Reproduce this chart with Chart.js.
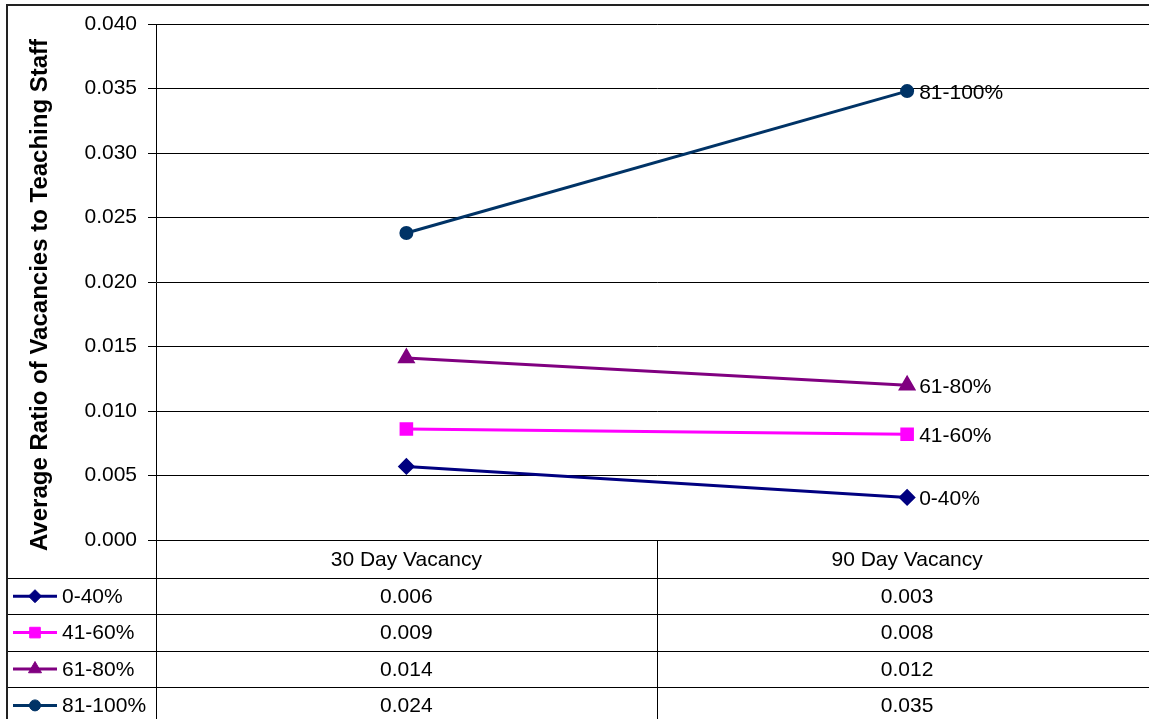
<!DOCTYPE html>
<html>
<head>
<meta charset="utf-8">
<title>Average Ratio of Vacancies to Teaching Staff</title>
<script src="https://cdn.jsdelivr.net/npm/chart.js@4.4.1/dist/chart.umd.min.js"></script>
<style>
  html, body { margin: 0; padding: 0; background: #fff; overflow: hidden; }
  #wrap { position: relative; width: 1168px; height: 719px; }
</style>
</head>
<body>
<div id="wrap"><canvas id="vacancy-chart" width="1168" height="719"></canvas></div>
<script>
/* ===================== DATA ===================== */

const CATEGORIES = ["30 Day Vacancy", "90 Day Vacancy"];
const SERIES_NAMES = ["0-40%", "41-60%", "61-80%", "81-100%"];

const RATIO_0_40 = [0.0057, 0.0033];
const RATIO_41_60 = [0.0086, 0.0082];
const RATIO_61_80 = [0.0141, 0.0120];
const RATIO_81_100 = [0.0238, 0.0348];

const Y_MIN = 0;
const Y_MAX = 0.04;
const Y_STEP = 0.005;

const Y_TITLE = "Average Ratio of Vacancies to Teaching Staff";

/* ===================== STYLE ===================== */

const SERIES_COLORS = [
  "#000080", // navy
  "#ff00ff", // magenta
  "#800080", // purple
  "#003366", // dark blue
];
const POINT_STYLES = ["rectRot", "rect", "triangle", "circle"];
const POINT_SIZES = [6.5, 7.5, 7.5, 5.5];

const FONT = "'Liberation Sans', Arial, sans-serif";
const drawPoint = Chart.helpers && Chart.helpers.drawPoint;

/* ===================== PLUGINS ===================== */

// series name printed right of the last point
const endLabels = {
  id: "endLabels",
  afterDatasetsDraw(chart) {
    const { ctx } = chart;
    ctx.save();
    ctx.font = `21px ${FONT}`;
    ctx.fillStyle = "#000";
    ctx.textAlign = "left";
    ctx.textBaseline = "middle";
    chart.data.datasets.forEach((ds, i) => {
      const pts = chart.getDatasetMeta(i).data;
      const last = pts[pts.length - 1];
      ctx.fillText(ds.label, last.x + 12, last.y + 2);
    });
    ctx.restore();
  },
};

// rotated value axis title (Excel puts it a bit below the plot centre)
const axisTitle = {
  id: "axisTitle",
  afterDraw(chart) {
    const { ctx, chartArea } = chart;
    ctx.save();
    ctx.translate(40, (chartArea.top + chartArea.bottom) / 2 + 13);
    ctx.rotate(-Math.PI / 2);
    ctx.font = `bold 24px ${FONT}`;
    ctx.fillStyle = "#000";
    ctx.textAlign = "center";
    ctx.textBaseline = "middle";
    ctx.fillText(Y_TITLE, 0, 0);
    ctx.restore();
  },
};

// Excel style data table under the plot
const dataTable = {
  id: "dataTable",
  afterDraw(chart) {
    const { ctx, chartArea, scales } = chart;
    const x = scales.x;
    const H = chart.height;
    const W = chart.width;
    const tableLeft = 8;
    const axisX = Math.round(chartArea.left) + 0.5;
    const midX = Math.round((x.getPixelForValue(0) + x.getPixelForValue(1)) / 2) + 0.5;
    const headerBottom = chartArea.bottom + 38;
    const rowH = 36.4;

    ctx.save();
    ctx.strokeStyle = "#000";
    ctx.lineWidth = 1;

    // row separators
    for (let i = 0; i < SERIES_NAMES.length; i++) {
      const y = Math.round(headerBottom + i * rowH) + 0.5;
      ctx.beginPath();
      ctx.moveTo(tableLeft, y);
      ctx.lineTo(W, y);
      ctx.stroke();
    }

    // column separators
    ctx.beginPath();
    ctx.moveTo(axisX, chartArea.bottom);
    ctx.lineTo(axisX, H);
    ctx.moveTo(midX, chartArea.bottom);
    ctx.lineTo(midX, H);
    ctx.stroke();

    // outer border
    ctx.lineWidth = 2;
    ctx.strokeStyle = "#222";
    ctx.beginPath();
    ctx.moveTo(7, H);
    ctx.lineTo(7, 5);
    ctx.lineTo(W, 5);
    ctx.stroke();

    // rows: legend key + values
    ctx.font = `21px ${FONT}`;
    ctx.textBaseline = "middle";
    chart.data.datasets.forEach((ds, i) => {
      const cy = headerBottom + (i + 0.5) * rowH;
      ctx.strokeStyle = ds.borderColor;
      ctx.lineWidth = 3;
      ctx.beginPath();
      ctx.moveTo(13, cy);
      ctx.lineTo(57, cy);
      ctx.stroke();
      if (drawPoint) {
        ctx.fillStyle = ds.borderColor;
        ctx.lineWidth = 1;
        drawPoint(ctx, {
          pointStyle: ds.pointStyle,
          radius: ds.pointRadius,
          rotation: 0,
          borderWidth: 1,
        }, 35, cy);
      }
      ctx.fillStyle = "#000";
      ctx.textAlign = "left";
      ctx.fillText(ds.label, 62, cy + 1);
      ctx.textAlign = "center";
      ds.data.forEach((v, j) => {
        ctx.fillText(v.toFixed(3), x.getPixelForValue(j), cy + 1);
      });
    });
    ctx.restore();
  },
};

/* ===================== CHART ===================== */

const seriesValues = [RATIO_0_40, RATIO_41_60, RATIO_61_80, RATIO_81_100];

const datasets = SERIES_NAMES.map((name, i) => ({
  label: name,
  data: seriesValues[i],
  borderColor: SERIES_COLORS[i],
  backgroundColor: SERIES_COLORS[i],
  pointBackgroundColor: SERIES_COLORS[i],
  pointBorderColor: SERIES_COLORS[i],
  pointStyle: POINT_STYLES[i],
  pointRadius: POINT_SIZES[i],
  borderWidth: 3,
  tension: 0,
  fill: false,
}));

Chart.defaults.font.family = FONT;
Chart.defaults.color = "#000";

new Chart(document.getElementById("vacancy-chart"), {
  type: "line",
  data: { labels: CATEGORIES, datasets },
  plugins: [endLabels, axisTitle, dataTable],
  options: {
    responsive: false,
    animation: false,
    layout: { padding: { top: 24, left: 0, right: 3, bottom: 0 } },
    plugins: {
      legend: { display: false },
      tooltip: { enabled: false },
    },
    scales: {
      x: {
        type: "category",
        offset: true,
        grid: { display: false, drawTicks: false },
        border: { display: true, color: "#000", width: 1 },
        ticks: { font: { size: 21 }, padding: 8, maxRotation: 0 },
        afterFit: (scale) => { scale.height = 179; },
      },
      y: {
        min: Y_MIN,
        max: Y_MAX,
        grid: { color: "#000", lineWidth: 1, tickLength: 8, tickColor: "#000" },
        border: { display: true, color: "#000", width: 1 },
        ticks: {
          stepSize: Y_STEP,
          padding: 11,
          font: { size: 21 },
          callback: (v) => v.toFixed(3),
        },
        title: { display: false },
        afterFit: (scale) => { scale.width = 156; },
      },
    },
  },
});
</script>
</body>
</html>
